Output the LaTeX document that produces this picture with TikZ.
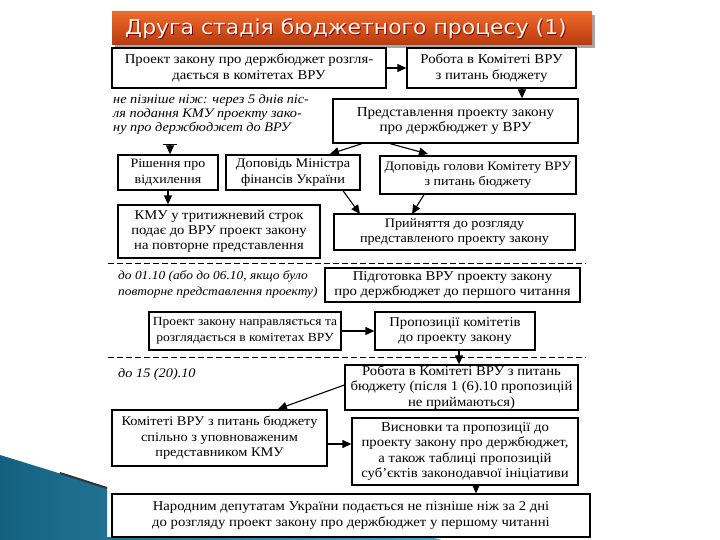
\documentclass[tikz,border=0pt]{standalone}
\usepackage{fontspec}
\setmainfont{Liberation Serif}[FakeStretch=1.09]
\newfontfamily\titlefont{DejaVu Sans}[FakeStretch=1.08]
\usetikzlibrary{arrows.meta}
\definecolor{titletop}{HTML}{EE6A2C}
\definecolor{titlebot}{HTML}{B83A0C}
\definecolor{tealdark}{HTML}{14617F}
\definecolor{teallight}{HTML}{49A9CF}
\begin{document}
\begin{tikzpicture}[x=1pt,y=-1pt,
  bx/.style={draw=black,line width=1.3pt,fill=white,inner sep=0pt,align=center,font=\fontsize{13.5}{15.5}\selectfont},
  fs/.style={font=\fontsize{#1}{15.5}\selectfont},
  arr/.style={line width=1.1pt,-{Triangle[length=9pt,width=8pt]}},
  barr/.style={line width=1.1pt,{Bar[width=14pt]}-{Triangle[length=9pt,width=8pt]}},
  note/.style={inner sep=0pt,align=left,anchor=north west,font=\fontsize{13.1}{14.2}\selectfont\itshape},
  dline/.style={line width=1pt,dash pattern=on 6pt off 3pt}]
\useasboundingbox (0,0) rectangle (720,540);
\fill[white] (0,0) rectangle (720,540);
% decoration bottom left
\shade[left color=tealdark,right color=teallight] (0,455) -- (107,488) -- (107,537) -- (430,537) -- (442,540) -- (0,540) -- cycle;
\draw[line width=2pt,black!80] (60,473) -- (107,488);
% title
\fill[black!35] (115,15) rectangle (595,48);
\shade[top color=titletop,bottom color=titlebot] (112,12) rectangle (592,45);
\node[font=\titlefont\fontsize{20.3}{24}\selectfont,text=black!50!red,anchor=west,inner sep=0pt] at (125.8,29.8) {Друга стадія бюджетного процесу (1)};
\node[font=\titlefont\fontsize{20.3}{24}\selectfont,text=white!92!orange,anchor=west,inner sep=0pt] (title) at (125,29) {Друга стадія бюджетного процесу (1)};
% row 1
\node[bx,minimum width=274pt,minimum height=40pt] (b1) at (249,68) {Проект закону про держбюджет розгля-\\дається в комітетах ВРУ};
\node[bx,minimum width=169pt,minimum height=40pt] (b2) at (491.5,68) {Робота в Комітеті ВРУ\\з питань бюджету};
\node[note] (n1) at (113,94) {не пізніше ніж: через 5 днів піс-\\ля подання КМУ проекту зако-\\ну про держбюджет до ВРУ};
\node[bx,fs=13.8,minimum width=245pt,minimum height=44pt] (b3) at (455.5,121) {Представлення проекту закону\\про держбюджет у ВРУ};
\node[bx,fs=12.8,minimum width=100pt,minimum height=35pt] (b4) at (168,172.5) {Рішення про\\відхилення};
\node[bx,fs=13.1,minimum width=134pt,minimum height=35pt] (b5) at (293,172.5) {Доповідь Міністра\\фінансів України};
\node[bx,fs=12.9,minimum width=196pt,minimum height=38pt] (b6) at (478,175) {Доповідь голови Комітету ВРУ\\з питань бюджету};
\node[bx,font=\fontsize{13.4}{15}\selectfont,minimum width=202pt,minimum height=53pt] (b7) at (219,231.5) {КМУ у тритижневий строк\\подає до ВРУ проект закону\\на повторне представлення};
\node[bx,fs=13,minimum width=241pt,minimum height=36pt] (b8) at (454.5,232) {Прийняття до розгляду\\представленого проекту закону};
% second section
\draw[dline] (108,263) -- (586,263);
\node[note,font=\fontsize{12.3}{16}\selectfont\itshape] (n2) at (118,270) {до 01.10 (або до 06.10, якщо було\\повторне представлення проекту)};
\node[bx,minimum width=255pt,minimum height=34pt] (b9) at (452.5,285) {Підготовка ВРУ проекту закону\\про держбюджет до першого читання};
\node[bx,fs=12.4,minimum width=192pt,minimum height=38pt] (b10) at (245,331) {Проект закону направляється та\\розглядається в комітетах ВРУ};
\node[bx,minimum width=160pt,minimum height=38pt] (b11) at (455,331) {Пропозиції комітетів\\до проекту закону};
\draw[dline] (108,357) -- (586,357);
% third section
\node[note] (n3) at (118,368) {до 15 (20).10};
\node[bx,minimum width=233pt,minimum height=45pt] (b12) at (461.5,387.5) {Робота в Комітеті ВРУ з питань\\бюджету (після 1 (6).10 пропозицій\\не приймаються)};
\node[bx,fs=13.2,minimum width=215pt,minimum height=56pt] (b13) at (219.5,438) {Комітеті ВРУ з питань бюджету\\спільно з уповноваженим\\представником КМУ};
\node[bx,minimum width=226pt,minimum height=67pt] (b14) at (465,451.5) {Висновки та пропозиції до\\проекту закону про держбюджет,\\а також таблиці пропозицій\\суб'єктів законодавчої ініціативи};
\node[bx,minimum width=478pt,minimum height=43pt] (b15) at (351,515.5) {Народним депутатам України подається не пізніше ніж за 2 дні\\до розгляду проект закону про держбюджет у першому читанні};
% connectors
\coordinate (c4) at (170,144);
\coordinate (t5) at (330,154);
\coordinate (t6) at (428,154);
\coordinate (t8a) at (360,214);
\coordinate (t8b) at (412,214);
\coordinate (t13) at (278,409);
\draw[arr] (b1.east) -- (b2.west);
\draw[arr] (b2.south -| 522,0) -- (b3.north -| 522,0);
\draw[barr] (c4) -- (c4 |- b4.north);
\draw[arr] (b3.south -| 362,0) -- (t5);
\draw[arr] (b3.south -| 390,0) -- (t6);
\draw[arr] (b4.south) -- (b7.north -| b4.south);
\draw[arr] (b5.south -| 343,0) -- (t8a);
\draw[arr] (b6.south -| 424,0) -- (t8b);
\draw[arr] (b10.east) -- (b11.west);
\draw[arr] (b11.south -| 459,0) -- (b12.north -| 459,0);
\draw[arr] (b12.west |- 0,385) -- (t13);
\draw[arr] (b13.east |- 0,444) -- (b14.west |- 0,444);
\draw[arr] (b14.south -| 476,0) -- (b15.north -| 476,0);
\end{tikzpicture}
\end{document}
